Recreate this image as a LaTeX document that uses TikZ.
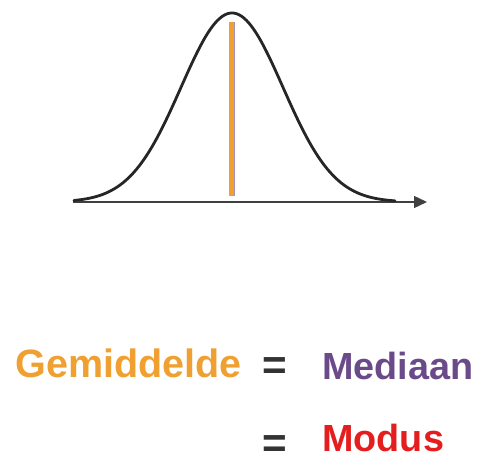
\documentclass[tikz,border=0pt]{standalone}
\usepackage{fontspec}
\setmainfont{Liberation Sans}
\usetikzlibrary{arrows.meta,positioning}
\definecolor{gemorange}{HTML}{F0A030}
\definecolor{medpurple}{HTML}{6B4A8A}
\definecolor{modred}{HTML}{E41E1E}
\definecolor{eqgray}{HTML}{333333}
\begin{document}
\begin{tikzpicture}[
    x=0.02cm, y=-0.02cm,
    word/.style={inner sep=0pt, anchor=base west,
                 font=\fontsize{21.5}{24}\selectfont\bfseries},
    eqsign/.style={inner sep=0pt, text=eqgray,
                   font=\fontsize{24}{26}\selectfont\bfseries},
    axis/.style={-{Triangle[length=0.26cm, width=0.24cm]}, line width=0.028cm, black!75},
    bell/.style={line width=0.056cm, black!85, line cap=round}
  ]
    \useasboundingbox (0,0) rectangle (477,462);
    % axis and curve
    \coordinate (x0) at (73,202);
    \coordinate (x1) at (427,202);
    \draw[axis] (x0) -- (x1);
    \draw[bell] plot[domain=74:395, samples=120, smooth]
      (\x, {202-189*exp(-((\x-232)/51)^2/2)});
    % mean / median line
    \coordinate (top) at (231,22);
    \coordinate (bot) at (231,196);
    \draw[gemorange, line width=0.1cm] (top) -- (bot);
    \draw[medpurple!60, line width=0.016cm] ([xshift=0.06cm]top) -- ([xshift=0.06cm]bot);
    % labels
    \node[word, text=gemorange, font=\fontsize{22.5}{24}\selectfont\bfseries]
      (gem) at (15,378) {Gemiddelde};
    \node[eqsign] (eq1) at (275,369) {=};
    \node[word, text=medpurple] (med) at (322,380) {Mediaan};
    \node[eqsign] (eq2) at (275,447) {=};
    \node[word, text=modred] (mod) at (322,452) {Modus};
\end{tikzpicture}
\end{document}
